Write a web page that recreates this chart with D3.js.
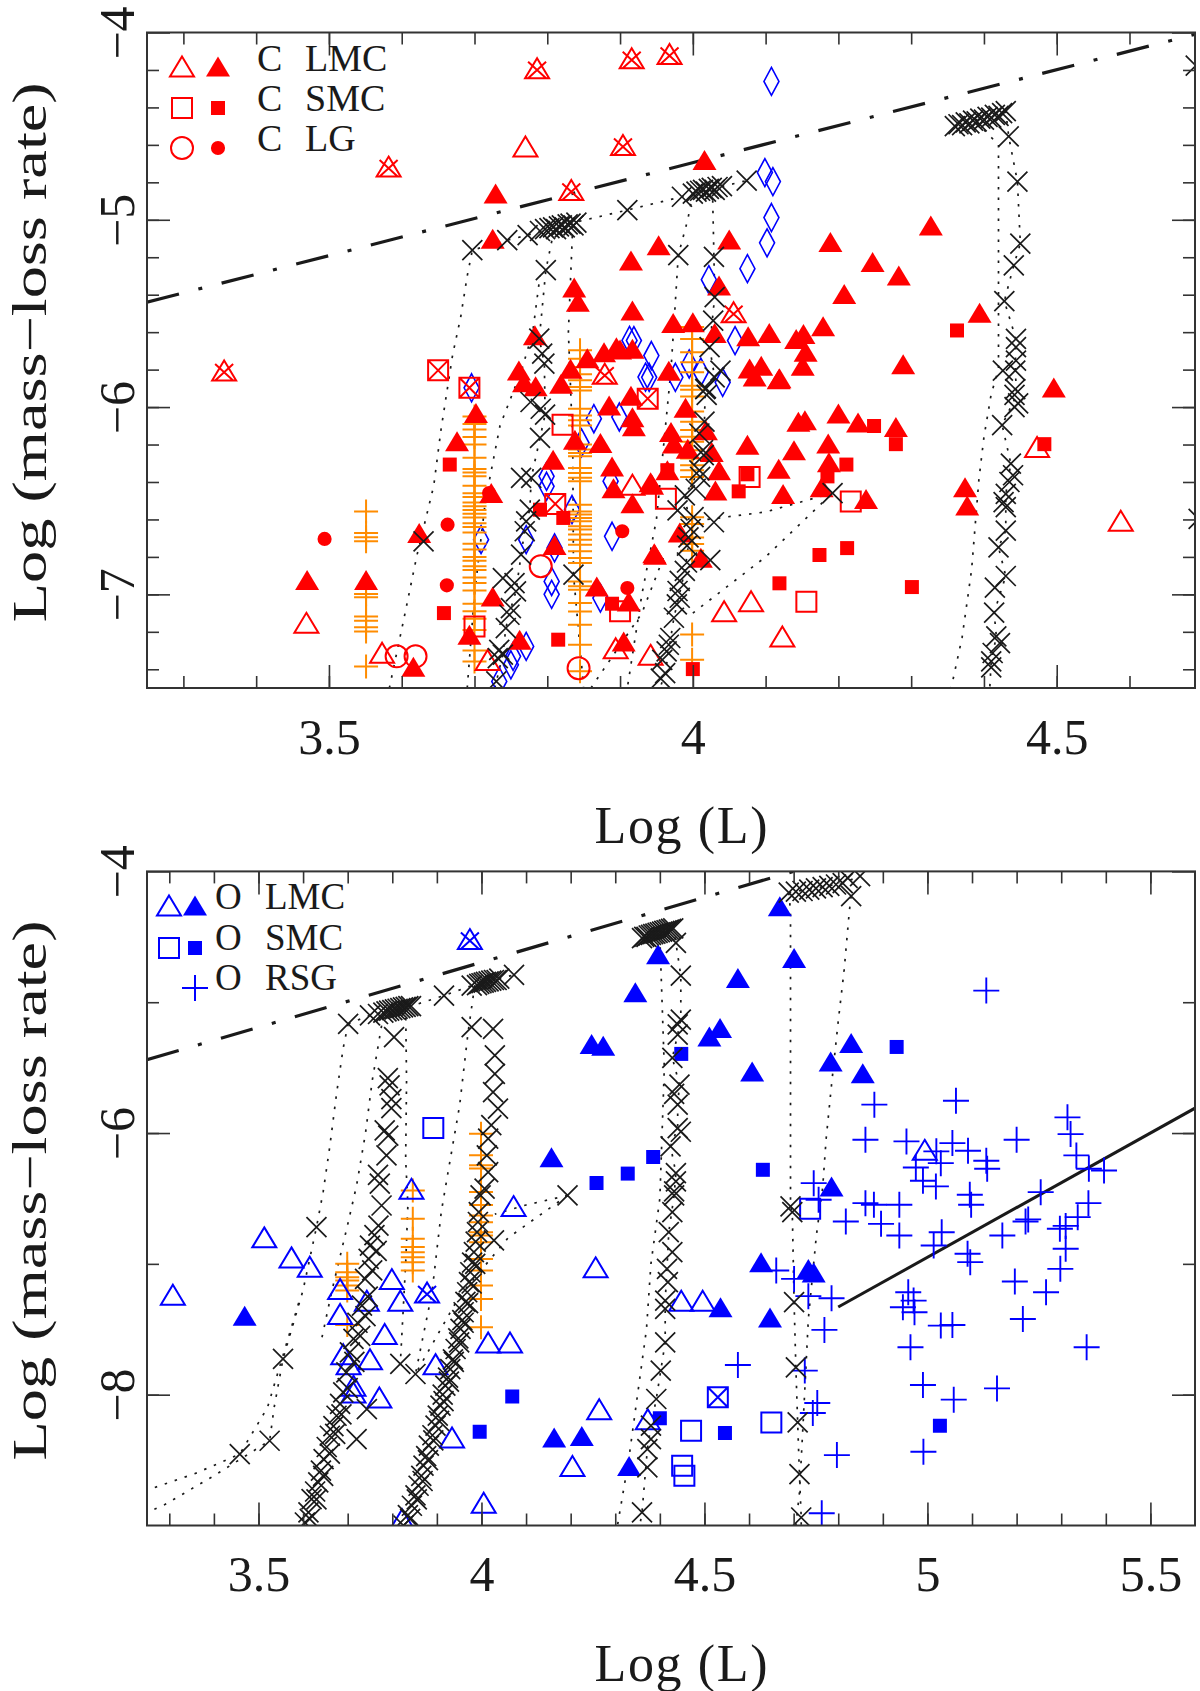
<!DOCTYPE html>
<html>
<head>
<meta charset="utf-8">
<script src="https://cdn.jsdelivr.net/npm/d3@7"></script>
<style>
  body { margin: 0; background: #fff; }
  text { font-family: "Liberation Serif", "DejaVu Serif", serif; fill: #1a1a1a; }
</style>
</head>
<body>
<div id="chart-area"></div>
<script>
// ---------- top panel: carbon stars ----------
const topXLabels = [3.5, 4, 4.5]
const topYLabels = [-4, -5, -6, -7]

const cLmcOpen = [[3.469,-7.16],[3.573,-7.32],[3.77,-4.617],[3.718,-7.358],[3.894,-7.296],[3.942,-7.331],
  [3.917,-6.423],[4.043,-7.098],[4.080,-7.045],[4.123,-7.233],[4.588,-6.615],[4.473,-6.221]]
const cLmcCrossed = [[3.582,-4.724],[3.786,-4.199],[3.833,-4.849],[3.356,-5.813],[3.879,-5.83],
  [3.916,-4.145],[3.968,-4.123],[3.904,-4.609],[4.056,-5.502]]
const cLmcFilled = [[3.729,-4.868],[3.725,-5.109],[3.837,-5.37],[3.842,-5.446],[3.783,-5.624],[3.915,-5.225],
  [3.953,-5.144],[3.917,-5.492],[3.855,-5.747],[3.878,-5.715],[3.90,-5.70],[3.917,-5.697],[3.761,-5.813],
  [3.768,-5.875],[3.784,-5.897],[3.819,-5.884],[3.832,-5.804],[3.915,-5.947],[3.885,-6.0],[3.702,-6.04],
  [3.917,-6.062],[3.676,-6.191],[3.723,-6.467],[3.624,-6.681],[3.470,-6.931],[3.551,-6.931],[3.725,-7.02],
  [3.693,-7.224],[3.616,-7.394],[3.808,-6.289],[3.810,-6.744],[3.762,-7.251],[3.838,-6.183],[3.873,-6.2],
  [3.889,-6.325],[3.891,-6.441],[3.917,-6.521],[3.919,-6.111],[3.944,-6.423],[3.948,-6.797],[3.868,-6.966],
  [3.912,-7.046],[3.905,-7.26],[4.016,-4.689],[4.05,-5.113],[4.189,-5.127],[4.327,-5.038],[4.247,-5.234],
  [4.283,-5.305],[4.208,-5.404],[4.036,-5.359],[3.973,-5.559],[4.0,-5.555],[4.03,-5.613],[4.076,-5.630],
  [4.105,-5.613],[4.152,-5.618],[4.142,-5.645],[4.179,-5.577],[4.155,-5.712],[4.151,-5.788],[4.078,-5.802],
  [4.094,-5.788],[4.085,-5.845],[4.118,-5.859],[3.967,-5.814],[4.289,-5.779],[4.394,-5.505],[4.496,-5.904],
  [3.895,-5.689],[4.119,-5.854],[3.990,-6.012],[3.970,-6.141],[3.974,-6.203],[4.018,-6.132],[4.026,-6.248],
  [3.993,-6.23],[4.036,-6.346],[3.965,-6.346],[3.942,-6.409],[4.031,-6.454],[4.075,-6.209],[4.118,-6.337],
  [4.139,-6.239],[4.145,-6.087],[4.154,-6.078],[4.2,-6.042],[4.227,-6.09],[4.279,-6.114],[4.186,-6.203],
  [4.187,-6.302],[4.177,-6.436],[4.124,-6.472],[4.238,-6.499],[4.374,-6.436],[4.377,-6.534],[3.982,-6.678],
  [3.947,-6.789],[4.011,-6.812]]
const cSmcOpen = [[3.821,-6.094],[3.700,-7.171],[3.90,-7.09],[3.963,-6.49],[4.078,-6.373],[4.217,-6.504],[4.156,-7.039]]
const cSmcCrossed = [[3.650,-5.804],[3.693,-5.897],[3.938,-5.955],[3.811,-6.517]]
const cSmcFilled = [[3.666,-6.307],[3.658,-7.10],[3.815,-7.242],[3.790,-6.548],[3.822,-6.592],[3.889,-7.05],
  [4.0,-7.399],[4.119,-6.941],[4.174,-6.79],[4.212,-6.753],[4.301,-6.961],[4.211,-6.307],[4.185,-6.37],
  [4.249,-6.101],[4.279,-6.198],[4.483,-6.198],[4.063,-6.45],[3.965,-6.337],[4.075,-6.359],[4.363,-5.591]]
const cLgOpen = [[3.593,-7.331],[3.619,-7.331],[3.791,-6.85],[3.843,-7.394]]
const cLgFilled = [[3.494,-6.704],[3.663,-6.628],[3.662,-6.952],[3.72,-6.459],[3.910,-6.966],[3.903,-6.663]]
const diamonds = [[4.108,-4.261],[4.099,-4.748],[4.11,-4.796],[4.108,-4.988],[4.102,-5.123],[4.075,-5.261],
  [4.022,-5.32],[4.058,-5.645],[3.919,-5.645],[3.943,-5.725],[3.94,-5.841],[3.976,-5.841],[3.995,-5.77],
  [4.011,-5.814],[4.041,-5.868],[3.696,-5.897],[3.913,-5.644],[3.935,-5.84],[3.864,-6.062],[3.899,-6.053],
  [3.799,-6.37],[3.799,-6.423],[3.834,-6.547],[3.847,-6.191],[3.887,-6.396],[3.889,-6.69],[3.771,-6.708],
  [3.81,-6.752],[3.709,-6.708],[3.806,-6.931],[3.806,-7.0],[3.873,-7.02],[3.771,-7.278],[3.753,-7.331],
  [3.75,-7.376],[3.734,-7.465]]
// orange columns: [log L, [mass-loss values]]
const orangeTop = [
  [3.551, [-6.557,-6.672,-6.695,-6.717,-6.998,-7.016,-7.118,-7.141,-7.176,-7.198,-7.385]],
  [3.700, [-6.05,-6.09,-6.12,-6.16,-6.2,-6.27,-6.33,-6.35,-6.37,-6.42,-6.46,-6.48,-6.51,-6.53,-6.55,-6.57,
           -6.59,-6.62,-6.64,-6.67,-6.73,-6.76,-6.8,-6.82,-6.85,-6.87,-6.91,-6.94,-6.98,-7.05,-7.09,-7.13,
           -7.19,-7.3,-7.358]],
  [3.845, [-5.697,-5.742,-5.786,-5.825,-5.857,-5.893,-5.911,-6.009,-6.045,-6.071,-6.098,-6.2,-6.227,-6.245,
           -6.263,-6.325,-6.352,-6.378,-6.396,-6.521,-6.557,-6.574,-6.592,-6.61,-6.637,-6.654,-6.681,-6.708,
           -6.735,-6.77,-6.806,-6.833,-6.931,-6.957,-6.975,-7.046,-7.091,-7.162,-7.269,-7.411]],
  [3.999, [-5.573,-5.636,-5.707,-5.761,-5.814,-5.886,-5.908,-5.944,-6.024,-6.078,-6.123,-6.158,-6.185,-6.23,
           -6.275,-6.311,-6.338,-6.373,-6.588,-6.624,-6.696,-6.731,-6.767,-7.215,-7.349]]
]
const modelTop = [[3.790,-5.06],[3.797,-5.05],[3.803,-5.045],[3.808,-5.04],[3.812,-5.05],[3.816,-5.035],
  [3.82,-5.03],[3.824,-5.04],[3.828,-5.025],[3.832,-5.02],[3.836,-5.03],[3.84,-5.015],[3.697,-5.162],
  [3.745,-5.109],[3.773,-5.082],[3.91,-4.948],[3.985,-4.877],[4.0,-4.86],[4.005,-4.85],[4.01,-4.845],
  [4.014,-4.84],[4.018,-4.85],[4.022,-4.835],[4.026,-4.83],[4.03,-4.84],[4.034,-4.825],[4.04,-4.82],
  [4.074,-4.791],[3.798,-5.269],[3.789,-5.635],[3.793,-5.715],[3.796,-5.768],[3.777,-5.973],[3.791,-6.009],
  [3.98,-5.189],[4.029,-5.198],[4.03,-5.413],[4.028,-5.538],[4.023,-5.68],[4.038,-5.805],[4.03,-5.841],
  [4.017,-5.904],[4.36,-4.50],[4.365,-4.49],[4.37,-4.495],[4.375,-4.48],[4.38,-4.485],[4.385,-4.47],
  [4.39,-4.475],[4.395,-4.46],[4.40,-4.465],[4.405,-4.45],[4.41,-4.455],[4.415,-4.44],[4.42,-4.445],
  [4.425,-4.43],[4.43,-4.42],[4.434,-4.555],[4.446,-4.796],[4.45,-5.127],[4.441,-5.243],[4.428,-5.434],
  [4.444,-5.636],[4.444,-5.68],[4.444,-5.752],[4.426,-5.805],[4.443,-5.805],[4.443,-5.904],[4.442,-5.935],
  [4.447,-5.98],[4.442,-6.0],[4.425,-6.096],[4.437,-6.302],[4.44,-6.364],[4.435,-6.4],[4.43,-6.463],
  [4.427,-6.508],[4.43,-6.534],[4.43,-6.66],[4.42,-6.749],[4.43,-6.902],[4.415,-6.964],[4.414,-7.098],
  [4.417,-7.224],[4.422,-7.26],[4.412,-7.313],[4.41,-7.358],[4.41,-7.39],[4.691,-4.177],[4.695,-6.597],
  [4.019,-5.935],[4.018,-5.9],[4.016,-6.078],[4.009,-6.141],[4.014,-6.23],[4.015,-6.257],[4.009,-6.338],
  [4.01,-6.373],[4.004,-6.436],[3.989,-6.472],[3.979,-6.552],[4.001,-6.588],[4.029,-6.615],[3.997,-6.651],
  [3.994,-6.696],[3.992,-6.74],[4.024,-6.817],[3.992,-6.83],[3.989,-6.875],[3.982,-6.928],[3.979,-6.982],
  [3.982,-7.018],[3.978,-7.054],[3.974,-7.125],[3.969,-7.233],[3.967,-7.269],[3.964,-7.304],[3.962,-7.421],
  [3.958,-7.35],[3.956,-7.45],[4.192,-6.459],[3.630,-6.717],[3.79,-6.165],[3.797,-6.04],[3.764,-6.378],
  [3.778,-6.378],[3.776,-6.548],[3.771,-6.61],[3.769,-6.663],[3.764,-6.788],[3.739,-6.913],[3.755,-6.94],
  [3.757,-6.984],[3.75,-7.073],[3.748,-7.109],[3.743,-7.18],[3.734,-7.296],[3.739,-7.322],[3.732,-7.34],
  [3.73,-7.465],[3.836,-6.895]]
const tracksTop = [
  [[3.583,-7.5],[3.603,-7.13],[3.621,-6.79],[3.644,-6.42],[3.654,-6.12],[3.67,-5.72],[3.681,-5.52],[3.69,-5.30],
   [3.697,-5.162],[3.745,-5.109],[3.773,-5.082],[3.82,-5.03],[3.91,-4.948],[3.985,-4.877],[4.02,-4.84],[4.074,-4.791]],
  [[3.728,-7.5],[3.73,-7.465],[3.739,-7.322],[3.743,-7.18],[3.75,-7.073],[3.757,-6.984],[3.764,-6.788],
   [3.771,-6.61],[3.776,-6.548],[3.778,-6.378],[3.79,-6.165],[3.797,-6.04],[3.796,-5.768],[3.789,-5.635],
   [3.798,-5.269],[3.81,-5.04]],
  [[3.835,-5.03],[3.829,-5.6],[3.835,-6.2],[3.836,-6.895],[3.85,-7.5]],
  [[3.69,-7.5],[3.70,-7.0],[3.715,-6.5],[3.735,-6.1],[3.765,-5.8],[3.78,-5.6],[3.79,-5.3]],
  [[4.0,-4.86],[3.993,-5.0],[3.98,-5.189],[3.975,-5.5],[3.97,-5.8],[3.96,-6.2],[3.95,-6.6],[3.93,-7.0],[3.91,-7.5]],
  [[4.027,-4.84],[4.029,-5.198],[4.03,-5.413],[4.023,-5.68],[4.03,-5.841],[4.017,-5.904],[4.016,-6.078],
   [4.009,-6.338],[3.989,-6.472],[3.997,-6.651],[3.989,-6.875],[3.974,-7.125],[3.962,-7.421],[3.955,-7.5]],
  [[4.36,-4.50],[4.43,-4.42],[4.434,-4.555],[4.446,-4.796],[4.45,-5.127],[4.441,-5.243],[4.428,-5.434],
   [4.444,-5.636],[4.443,-5.805],[4.445,-5.935],[4.425,-6.096],[4.437,-6.302],[4.43,-6.463],[4.43,-6.66],
   [4.42,-6.749],[4.43,-6.902],[4.414,-7.098],[4.417,-7.224],[4.41,-7.358],[4.408,-7.5]],
  [[4.39,-4.48],[4.42,-4.6],[4.42,-5.8],[4.41,-5.93],[4.40,-6.16],[4.393,-6.39],[4.383,-6.87],[4.37,-7.23],[4.355,-7.5]],
  [[4.691,-4.177],[4.694,-5.0],[4.694,-6.0],[4.695,-6.597],[4.694,-7.5]],
  [[4.02,-6.6],[4.1,-6.56],[4.192,-6.459]],
  [[4.0,-7.1],[4.1,-6.8],[4.192,-6.459]],
  [[3.86,-7.5],[3.93,-7.1],[3.96,-6.8]]
]

// ---------- bottom panel: oxygen-rich stars ----------
const botXLabels = [3.5, 4, 4.5, 5, 5.5]
const botYLabels = [-4, -6, -8]

const oLmcOpen = [[3.843,-6.438],[4.072,-6.57],[3.308,-7.247],[3.513,-6.809],[3.574,-6.962],[3.615,-7.033],
  [3.683,-7.204],[3.683,-7.395],[3.69,-7.702],[3.702,-7.778],[3.713,-7.944],[3.713,-7.995],[3.743,-7.293],
  [3.799,-7.128],[3.818,-7.293],[3.783,-7.548],[3.75,-7.74],[3.771,-8.033],[3.897,-7.778],[3.934,-8.339],
  [4.015,-7.612],[4.064,-7.612],[4.256,-7.038],[4.264,-8.122],[4.204,-8.556],[4.005,-8.837],[4.373,-8.199],
  [3.822,-8.964],[4.448,-7.293],[4.496,-7.293],[4.994,-6.14]]
const oLmcCrossed = [[3.974,-4.529],[3.878,-7.23]]
const oLmcFilled = [[4.157,-6.196],[4.247,-5.331],[4.273,-5.344],[4.345,-4.936],[4.396,-4.644],[3.469,-7.408],
  [4.163,-8.339],[4.225,-8.327],[4.331,-8.556],[4.669,-4.278],[4.701,-4.673],[4.575,-4.827],[4.535,-5.209],
  [4.511,-5.273],[4.607,-5.541],[4.829,-5.324],[4.783,-5.464],[4.855,-5.554],[4.785,-6.421],[4.627,-7.0],
  [4.733,-7.051],[4.745,-7.077],[4.536,-7.344],[4.647,-7.421]]
const oSmcOpen = [[3.892,-5.962],[4.737,-6.579],[4.65,-8.212],[4.47,-8.276],[4.45,-8.543],[4.455,-8.62]]
const oSmcCrossed = [[4.53,-8.02]]
const oSmcFilled = [[4.258,-6.382],[4.328,-6.31],[4.385,-6.183],[4.069,-8.013],[3.996,-8.283],[4.448,-5.395],
  [4.931,-5.342],[4.631,-6.281],[4.4,-8.181],[4.546,-8.293],[5.028,-8.237]]
const oRsg = [[5.132,-4.911],[4.881,-5.783],[5.064,-5.753],[4.861,-6.051],[4.953,-6.064],[5.056,-6.077],
  [5.091,-6.135],[5.02,-6.14],[5.03,-6.23],[4.974,-6.263],[4.99,-6.365],[5.019,-6.408],[5.132,-6.212],
  [5.134,-6.273],[5.2,-6.051],[5.314,-5.88],[5.321,-6.008],[5.334,-6.171],[5.362,-6.273],[5.396,-6.286],
  [4.745,-6.383],[4.756,-6.51],[4.861,-6.536],[4.88,-6.548],[4.937,-6.548],[5.095,-6.472],[5.098,-6.548],
  [5.254,-6.452],[5.361,-6.536],[4.817,-6.676],[4.896,-6.694],[4.937,-6.783],[5.032,-6.758],[5.014,-6.86],
  [5.09,-6.923],[5.096,-6.987],[5.168,-6.783],[5.22,-6.676],[5.226,-6.66],[5.297,-6.732],[5.31,-6.71],
  [5.337,-6.643],[5.31,-6.885],[5.298,-7.038],[5.196,-7.135],[5.266,-7.217],[4.957,-7.217],[4.969,-7.281],
  [4.945,-7.332],[4.971,-7.37],[5.03,-7.472],[5.056,-7.467],[5.214,-7.421],[4.962,-7.638],[5.357,-7.638],
  [4.661,-7.051],[4.701,-7.115],[4.733,-7.247],[4.785,-7.263],[4.769,-7.505],[4.575,-7.773],[4.725,-7.816],
  [4.753,-8.064],[4.743,-8.14],[4.99,-7.926],[5.059,-8.038],[5.156,-7.952],[4.797,-8.462],[4.991,-8.436],
  [4.763,-8.906]]
const orangeBot = [
  [3.999, [-6.005,-6.17,-6.247,-6.272,-6.45,-6.55,-6.63,-6.681,-6.758,-6.783,-6.834,-6.962,-7.051,-7.166,-7.268,-7.485]],
  [3.846, [-6.44,-6.656,-6.809,-6.872,-6.911,-6.949,-6.987,-7.051]],
  [3.699, [-7.0,-7.064,-7.102,-7.128,-7.166,-7.204,-7.467]]
]
const modelBot = [
  [3.604,-8.977],[3.612,-8.9],[3.619,-8.798],[3.627,-8.74],[3.634,-8.671],[3.64,-8.58],[3.646,-8.492],
  [3.653,-8.4],[3.66,-8.314],[3.668,-8.24],[3.675,-8.161],[3.683,-8.07],[3.69,-7.982],[3.697,-7.83],
  [3.705,-7.676],[3.713,-7.574],[3.722,-7.45],[3.732,-7.319],[3.739,-7.115],[3.747,-6.962],[3.75,-6.86],
  [3.76,-6.78],[3.769,-6.707],[3.776,-6.554],[3.772,-6.387],[3.768,-6.32],[3.787,-6.17],[3.791,-6.02],
  [3.783,-5.98],[3.798,-5.81],[3.798,-5.74],[3.794,-5.636],[3.79,-5.58],[3.804,-5.267],
  [3.615,-8.95],[3.63,-8.80],[3.645,-8.62],[3.66,-8.45],[3.672,-8.3],[3.686,-8.15],[3.70,-7.95],[3.715,-7.75],
  [3.728,-7.55],[3.74,-7.4],[3.745,-7.25],[3.755,-7.05],[3.765,-6.9],
  [3.825,-9.0],[3.835,-8.92],[3.844,-8.849],[3.852,-8.77],[3.859,-8.696],[3.865,-8.62],[3.870,-8.543],
  [3.876,-8.47],[3.882,-8.39],[3.89,-8.31],[3.897,-8.237],[3.902,-8.16],[3.908,-8.084],[3.913,-8.0],
  [3.919,-7.931],[3.925,-7.87],[3.93,-7.804],[3.936,-7.73],[3.942,-7.651],[3.948,-7.57],[3.953,-7.497],
  [3.957,-7.43],[3.96,-7.37],[3.964,-7.29],[3.968,-7.217],[3.972,-7.14],[3.975,-7.064],[3.979,-6.99],
  [3.983,-6.911],[3.987,-6.83],[3.99,-6.758],[3.992,-6.68],[3.994,-6.605],[3.998,-6.477],[4.007,-6.425],
  [4.015,-6.298],[4.012,-6.17],[4.015,-6.043],[4.022,-5.94],[4.037,-5.814],[4.026,-5.687],[4.03,-5.547],
  [4.03,-5.407],[4.026,-5.204],[3.978,-5.19],
  [3.84,-8.95],[3.855,-8.8],[3.868,-8.66],[3.88,-8.5],[3.892,-8.35],[3.905,-8.2],[3.915,-8.05],[3.927,-7.9],
  [3.938,-7.75],[3.95,-7.6],[3.96,-7.45],[3.97,-7.3],[3.978,-7.15],[3.986,-7.0],
  [3.701,-5.165],[3.75,-5.1],[3.768,-5.09],[3.78,-5.08],[3.787,-5.07],[3.793,-5.065],[3.8,-5.06],[3.806,-5.055],
  [3.812,-5.05],[3.818,-5.045],[3.824,-5.04],[3.83,-5.035],[3.836,-5.03],[3.842,-5.03],[3.916,-4.949],[3.978,-4.873],
  [3.99,-4.87],[3.995,-4.86],[4.0,-4.855],[4.005,-4.85],[4.01,-4.845],[4.016,-4.84],[4.022,-4.835],[4.028,-4.83],
  [4.034,-4.83],[4.04,-4.82],[4.073,-4.791],
  [4.36,-4.51],[4.365,-4.5],[4.37,-4.5],[4.375,-4.49],[4.38,-4.485],[4.385,-4.48],[4.39,-4.475],[4.395,-4.47],
  [4.4,-4.465],[4.405,-4.46],[4.41,-4.455],[4.415,-4.45],[4.42,-4.445],[4.425,-4.44],[4.43,-4.435],[4.436,-4.546],
  [4.447,-4.796],[4.447,-5.133],[4.44,-5.17],[4.44,-5.247],[4.428,-5.426],[4.444,-5.63],[4.432,-5.7],[4.44,-5.783],
  [4.44,-5.962],[4.447,-5.99],[4.424,-6.102],[4.436,-6.306],[4.436,-6.37],[4.432,-6.446],[4.432,-6.477],
  [4.428,-6.605],[4.42,-6.758],[4.428,-6.911],[4.416,-7.038],[4.418,-7.14],[4.412,-7.281],[4.412,-7.344],
  [4.412,-7.6],[4.402,-7.816],[4.392,-8.033],[4.38,-8.237],[4.38,-8.339],[4.372,-8.416],[4.372,-8.556],[4.36,-8.9],
  [4.689,-4.163],[4.705,-4.155],[4.72,-4.15],[4.735,-4.14],[4.75,-4.13],[4.765,-4.12],[4.78,-4.11],[4.795,-4.1],
  [4.81,-4.09],[4.821,-4.05],[4.849,-4.036],[4.829,-4.189],
  [4.693,-6.56],[4.697,-6.605],[4.701,-7.293],[4.705,-7.791],[4.709,-8.212],[4.713,-8.607],[4.717,-8.939],
  [3.630,-6.719],[3.555,-7.727],[3.525,-8.352],[3.458,-8.454],[3.818,-7.765],[3.852,-7.842],[3.72,-8.339],
  [3.743,-8.11],[4.193,-6.477],[4.028,-6.821]]
const tracksBot = [
  [[3.701,-5.165],[3.69,-5.35],[3.675,-5.7],[3.66,-6.1],[3.645,-6.45],[3.63,-6.72],[3.6,-7.2],[3.555,-7.727],
   [3.535,-8.1],[3.525,-8.352],[3.4,-8.62],[3.29,-8.84],[3.25,-8.9]],
  [[3.59,-7.3],[3.52,-8.1],[3.458,-8.454],[3.36,-8.6],[3.25,-8.73]],
  [[3.701,-5.165],[3.75,-5.1],[3.8,-5.06],[3.842,-5.03],[3.916,-4.949],[3.978,-4.873],[4.04,-4.82],[4.073,-4.791]],
  [[3.83,-5.04],[3.832,-5.6],[3.83,-6.2],[3.835,-6.55],[3.83,-7.0],[3.818,-7.765]],
  [[3.985,-4.87],[3.97,-5.23],[3.951,-5.79],[3.925,-6.3],[3.91,-6.6],[3.889,-7.22],[3.852,-7.842]],
  [[3.78,-5.1],[3.755,-5.6],[3.74,-6.0],[3.72,-6.4],[3.70,-6.7],[3.665,-7.2],[3.64,-7.6]],
  [[4.193,-6.477],[4.06,-6.8],[3.95,-7.25],[3.852,-7.842]],
  [[4.193,-6.477],[4.1,-6.55],[4.03,-6.62]],
  [[4.36,-4.51],[4.43,-4.435],[4.436,-4.546],[4.447,-4.796],[4.447,-5.133],[4.44,-5.247],[4.428,-5.426],
   [4.444,-5.63],[4.44,-5.783],[4.44,-5.962],[4.424,-6.102],[4.436,-6.306],[4.432,-6.477],[4.42,-6.758],
   [4.416,-7.038],[4.412,-7.281],[4.412,-7.6],[4.402,-7.816],[4.392,-8.033],[4.38,-8.237],[4.372,-8.416],
   [4.36,-8.9],[4.355,-9.0]],
  [[4.40,-4.5],[4.41,-5.5],[4.40,-6.5],[4.38,-7.0],[4.37,-7.5],[4.35,-8.0],[4.33,-8.5],[4.305,-9.0]],
  [[4.689,-4.163],[4.693,-4.3],[4.693,-5.0],[4.693,-6.0],[4.693,-6.56],[4.697,-6.605],[4.701,-7.293],
   [4.705,-7.791],[4.709,-8.212],[4.713,-8.607],[4.717,-8.939],[4.717,-9.0]],
  [[4.829,-4.189],[4.825,-4.3],[4.813,-4.763],[4.8,-5.145],[4.785,-5.63],[4.773,-6.04],[4.765,-6.42],
   [4.751,-6.783],[4.733,-7.42],[4.721,-8.237],[4.713,-8.75],[4.705,-9.0]],
  [[4.689,-4.163],[4.81,-4.09],[4.849,-4.036]]
]

// reference lines (both panels share the dash-dot limit)
const dashDotLine = [[3.25,-5.44],[4.70,-4.0]]
const solidLine = [[4.8,-7.33],[5.6,-5.81]]

// ---------- layout ----------
const WIDTH = 1200, HEIGHT = 1691
const LEFT = 147, RIGHT = 1195
const RED = "#ff0000", BLUE = "#0000ff", ORANGE = "#ff8c00", INK = "#1a1a1a"

const svg = d3.select("#chart-area").append("svg")
  .attr("width", WIDTH)
  .attr("height", HEIGHT)

const SHAPE = {
  tri: "M0,-11.5L12,8.5L-12,8.5Z",
  triCross: "M0,-11.5L12,8.5L-12,8.5ZM-9,-8L9,8.5M9,-8L-9,8.5",
  square: "M-10,-10H10V10H-10Z",
  squareCross: "M-10,-10H10V10H-10ZM-10,-10L10,10M10,-10L-10,10",
  smallSquare: "M-7,-7H7V7H-7Z",
  diamond: "M0,-14L7.5,0L0,14L-7.5,0Z",
  cross: "M-10,-10L10,10M-10,10L10,-10",
  plus: "M-13,0H13M0,-13V13",
  orangePlus: "M-12,0H12M0,-12V12",
  circle: d3.symbol(d3.symbolCircle, Math.PI * 121)(),
  dot: d3.symbol(d3.symbolCircle, Math.PI * 50)()
}

const columnPoints = cols => cols.flatMap(([lx, ys]) => ys.map(v => [lx, v]))

function drawPanel(cfg, idx) {
  const x = d3.scaleLinear().domain(cfg.xDomain).range([LEFT, RIGHT])
  const y = d3.scaleLinear().domain(cfg.yDomain).range([cfg.bottom, cfg.top])
  const g = svg.append("g")

  g.append("clipPath").attr("id", "clip" + idx)
    .append("rect")
      .attr("x", LEFT).attr("y", cfg.top)
      .attr("width", RIGHT - LEFT).attr("height", cfg.bottom - cfg.top)

  const marks = g.append("g").attr("clip-path", `url(#clip${idx})`)
  const line = d3.line().x(d => x(d[0])).y(d => y(d[1]))

  // evolutionary tracks
  marks.selectAll(".track").data(cfg.tracks).enter().append("path")
    .attr("d", line)
    .attr("fill", "none")
    .attr("stroke", INK)
    .attr("stroke-width", 1.7)
    .attr("stroke-dasharray", "2.5,8")

  marks.append("path").attr("d", line(dashDotLine))
    .attr("fill", "none").attr("stroke", INK).attr("stroke-width", 3.2)
    .attr("stroke-dasharray", "33,20,4,20")

  if (cfg.solid) {
    marks.append("path").attr("d", line(cfg.solid))
      .attr("fill", "none").attr("stroke", INK).attr("stroke-width", 3)
  }

  const draw = (data, shape, fill, stroke, sw) => {
    marks.selectAll(null).data(data).enter().append("path")
      .attr("transform", d => `translate(${x(d[0])},${y(d[1])})`)
      .attr("d", SHAPE[shape])
      .attr("fill", fill || "none")
      .attr("stroke", stroke || "none")
      .attr("stroke-width", sw || 2)
  }
  cfg.series.forEach(s => draw(...s))

  // axes: major + minor ticks on all four sides, pointing inwards
  const tickGroup = (axis, tr) => g.append("g")
    .attr("transform", tr)
    .call(axis)
    .call(s => s.select(".domain").remove())
    .call(s => s.selectAll("line").attr("stroke", "#333").attr("stroke-width", 1.6))

  const fmt = d => String(d).replace("-", "\u2212")
  const xb = tickGroup(d3.axisBottom(x).tickValues(cfg.xLabels).tickSize(-23).tickPadding(30).tickFormat(fmt),
    `translate(0,${cfg.bottom})`)
  xb.selectAll("text").attr("font-size", 50).attr("fill", INK)
  tickGroup(d3.axisBottom(x).tickValues(cfg.xMinor).tickSize(-12).tickFormat(""), `translate(0,${cfg.bottom})`)
  tickGroup(d3.axisTop(x).tickValues(cfg.xLabels).tickSize(-23).tickFormat(""), `translate(0,${cfg.top})`)
  tickGroup(d3.axisTop(x).tickValues(cfg.xMinor).tickSize(-12).tickFormat(""), `translate(0,${cfg.top})`)

  const yl = tickGroup(d3.axisLeft(y).tickValues(cfg.yLabels).tickSize(-23).tickFormat(fmt), `translate(${LEFT},0)`)
  yl.selectAll("text")
    .attr("transform", "rotate(-90)")
    .attr("x", 0).attr("y", -13).attr("dy", 0)
    .attr("text-anchor", "middle")
    .attr("font-size", 50).attr("fill", INK)
  tickGroup(d3.axisLeft(y).tickValues(cfg.yMinor).tickSize(-12).tickFormat(""), `translate(${LEFT},0)`)
  tickGroup(d3.axisRight(y).tickValues(cfg.yLabels).tickSize(-23).tickFormat(""), `translate(${RIGHT},0)`)
  tickGroup(d3.axisRight(y).tickValues(cfg.yMinor).tickSize(-12).tickFormat(""), `translate(${RIGHT},0)`)

  g.append("rect")
    .attr("x", LEFT).attr("y", cfg.top)
    .attr("width", RIGHT - LEFT).attr("height", cfg.bottom - cfg.top)
    .attr("fill", "none").attr("stroke", "#333").attr("stroke-width", 2)

  // axis titles
  g.append("text")
    .attr("x", (LEFT + RIGHT) / 2 + 10).attr("y", cfg.bottom + 155)
    .attr("text-anchor", "middle").attr("font-size", 52)
    .attr("textLength", 173).attr("lengthAdjust", "spacing")
    .text("Log (L)")
  g.append("text")
    .attr("transform", `translate(46,${(cfg.top + cfg.bottom) / 2 - 8}) rotate(-90)`)
    .attr("text-anchor", "middle").attr("font-size", 48)
    .attr("textLength", 540).attr("lengthAdjust", "spacingAndGlyphs")
    .text("Log (mass\u2212loss rate)")

  // legend
  const lg = g.append("g")
  cfg.legend.forEach(row => {
    if (row.open) lg.append("path").attr("transform", `translate(${row.ox},${row.y})`)
      .attr("d", SHAPE[row.open]).attr("fill", "none").attr("stroke", row.color).attr("stroke-width", 2)
    if (row.filled) lg.append("path").attr("transform", `translate(${row.fx},${row.y})`)
      .attr("d", SHAPE[row.filled]).attr("fill", row.fillMark ? "none" : row.color)
      .attr("stroke", row.fillMark ? row.color : "none").attr("stroke-width", 2)
    lg.append("text").attr("x", row.tx1).attr("y", row.y + row.dy).attr("font-size", row.fs).text(row.t1)
    lg.append("text").attr("x", row.tx2).attr("y", row.y + row.dy).attr("font-size", row.fs).text(row.t2)
  })
}

drawPanel({
  top: 32.5, bottom: 688,
  xDomain: [3.25, 4.69], yDomain: [-7.5, -4],
  xLabels: topXLabels, yLabels: topYLabels,
  xMinor: d3.range(33, 47).map(v => v / 10),
  yMinor: d3.range(-37, -20).map(v => v / 5),
  tracks: tracksTop,
  series: [
    [diamonds, "diamond", null, BLUE, 1.6],
    [columnPoints(orangeTop), "orangePlus", null, ORANGE, 2],
    [cLmcOpen, "tri", null, RED],
    [cLmcCrossed, "triCross", null, RED],
    [cSmcOpen, "square", null, RED],
    [cSmcCrossed, "squareCross", null, RED],
    [cLgOpen, "circle", null, RED],
    [cLmcFilled, "tri", RED],
    [cSmcFilled, "smallSquare", RED],
    [cLgFilled, "dot", RED],
    [modelTop, "cross", null, INK, 1.7]
  ],
  legend: [
    {y: 68, ox: 182, fx: 218, open: "tri", filled: "tri", color: RED, tx1: 257, tx2: 305, t1: "C", t2: "LMC", dy: 3, fs: 38},
    {y: 108, ox: 182, fx: 218, open: "square", filled: "smallSquare", color: RED, tx1: 257, tx2: 305, t1: "C", t2: "SMC", dy: 3, fs: 38},
    {y: 148, ox: 182, fx: 218, open: "circle", filled: "dot", color: RED, tx1: 257, tx2: 305, t1: "C", t2: "LG", dy: 3, fs: 38}
  ]
}, 0)

drawPanel({
  top: 871.4, bottom: 1525.5,
  xDomain: [3.25, 5.6], yDomain: [-9, -4],
  xLabels: botXLabels, yLabels: botYLabels,
  xMinor: d3.range(33, 56).map(v => v / 10),
  yMinor: d3.range(-8, -4),
  tracks: tracksBot,
  solid: solidLine,
  series: [
    [columnPoints(orangeBot), "orangePlus", null, ORANGE, 2],
    [oRsg, "plus", null, BLUE, 1.9],
    [oLmcOpen, "tri", null, BLUE],
    [oLmcCrossed, "triCross", null, BLUE],
    [oSmcOpen, "square", null, BLUE],
    [oSmcCrossed, "squareCross", null, BLUE],
    [oLmcFilled, "tri", BLUE],
    [oSmcFilled, "smallSquare", BLUE],
    [modelBot, "cross", null, INK, 1.7]
  ],
  legend: [
    {y: 907, ox: 169, fx: 195, open: "tri", filled: "tri", color: BLUE, tx1: 215, tx2: 265, t1: "O", t2: "LMC", dy: 2, fs: 37},
    {y: 948, ox: 169, fx: 195, open: "square", filled: "smallSquare", color: BLUE, tx1: 215, tx2: 265, t1: "O", t2: "SMC", dy: 2, fs: 37},
    {y: 988, fx: 195, filled: "plus", fillMark: true, color: BLUE, tx1: 215, tx2: 265, t1: "O", t2: "RSG", dy: 2, fs: 37}
  ]
}, 1)
</script>
</body>
</html>
